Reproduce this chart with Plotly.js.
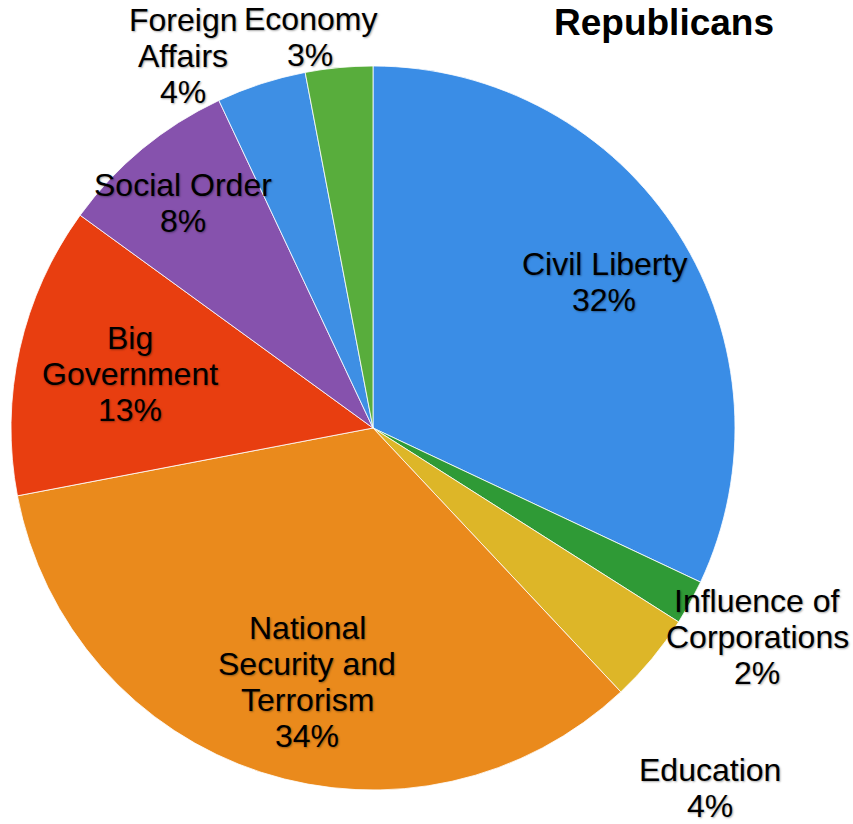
<!DOCTYPE html>
<html>
<head>
<meta charset="utf-8">
<script src="https://cdn.plot.ly/plotly-3.0.1.min.js"></script>
<style>html,body{margin:0;padding:0;background:#fff;}#chart{width:853px;height:824px;}</style>
</head>
<body>
<div id="chart"></div>
<script>
// ---- data ----
const categories = ["Civil Liberty", "Influence of Corporations", "Education", "National Security and Terrorism", "Big Government", "Social Order", "Foreign Affairs", "Economy"];
const values = [32, 2, 4, 34, 13, 8, 4, 3];
const labelLines = [["Civil Liberty"], ["Influence of", "Corporations"], ["Education"], ["National", "Security and", "Terrorism"], ["Big", "Government"], ["Social Order"], ["Foreign", "Affairs"], ["Economy"]];
const chartTitle = "Republicans";

// ---- styles / layout ----
const colors = ["#3a8de6", "#2f9a36", "#ddb628", "#ea8a1c", "#e83e10", "#8652ad", "#3e8fe4", "#58ad3c"];
// label anchor positions in page pixels (layout only)
const labelPx = [[604, 282], [757, 637], [710, 788], [307, 682], [130, 374], [183, 203], [183, 56], [310, 37]];
const lineGap = 36;
const W = 853, H = 824;
const labelFont = {family: "Liberation Sans, Arial, sans-serif", size: 32, color: "#000", shadow: "1px 1px 2px rgba(0,0,0,0.35)"};

const total = values.reduce((a, b) => a + b, 0);
const annotations = [];
categories.forEach((c, i) => {
  const lines = labelLines[i].concat([Math.round(values[i] / total * 100) + "%"]);
  const n = lines.length;
  lines.forEach((t, k) => {
    const py = labelPx[i][1] + (k - (n - 1) / 2) * lineGap;
    annotations.push({
      text: t, xref: "paper", yref: "paper",
      x: labelPx[i][0] / W, y: 1 - py / H,
      xanchor: "center", yanchor: "middle",
      showarrow: false, align: "center", font: labelFont
    });
  });
});

const cx = 373, cy = 428, r = 362;
const trace = {
  type: "pie",
  labels: categories,
  values: values,
  sort: false,
  direction: "clockwise",
  rotation: 0,
  textinfo: "none",
  hoverinfo: "label+percent",
  marker: {colors: colors, line: {color: "rgba(255,255,255,0.8)", width: 1}},
  domain: {x: [(cx - r) / W, (cx + r) / W], y: [1 - (cy + r) / H, 1 - (cy - r) / H]},
  showlegend: false
};

const layout = {
  width: W, height: H,
  margin: {l: 0, r: 0, t: 0, b: 0},
  paper_bgcolor: "#fff",
  title: {text: "<b>" + chartTitle + "</b>", x: 664 / W, xanchor: "center", y: 1 - 22 / H, yanchor: "middle", xref: "paper", yref: "paper",
    font: {family: "Liberation Sans, Arial, sans-serif", size: 37, color: "#000"}},
  annotations: annotations,
  showlegend: false
};

Plotly.newPlot("chart", [trace], layout, {displayModeBar: false});
</script>
</body>
</html>
